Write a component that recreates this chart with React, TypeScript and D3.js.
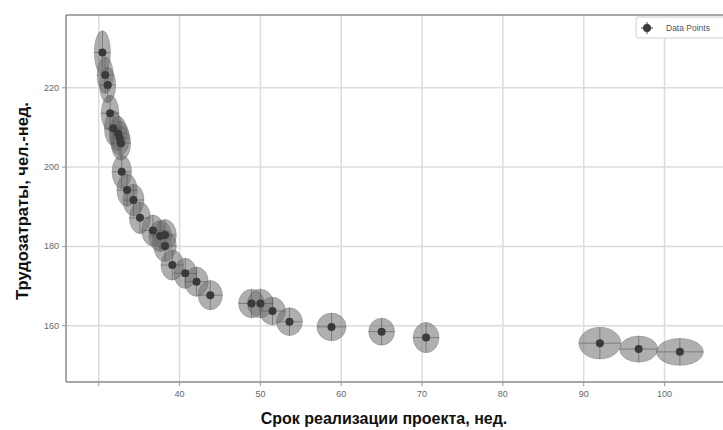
import React from "react";
import * as d3 from "d3";

const xValues = [30.45, 30.8, 31.1, 31.4, 31.8, 32.4, 32.6, 32.75, 32.85, 33.5, 34.3, 35.1, 36.7, 37.6, 38.2, 38.2, 39.1, 40.7, 42.1, 43.8, 48.9, 50.0, 51.5, 53.6, 58.8, 65.0, 70.5, 92.0, 96.8, 101.9];
const yValues = [228.9, 223.2, 220.7, 213.6, 209.8, 208.5, 207.3, 206.0, 198.8, 194.2, 191.7, 187.2, 184.0, 182.6, 182.9, 180.1, 175.3, 173.2, 171.1, 167.7, 165.6, 165.6, 163.7, 161.0, 159.7, 158.5, 157.0, 155.6, 154.1, 153.4];
const xErr = [1.0, 1.0, 1.0, 1.1, 1.1, 1.1, 1.2, 1.2, 1.2, 1.25, 1.3, 1.3, 1.4, 1.4, 1.4, 1.4, 1.4, 1.4, 1.45, 1.5, 1.6, 1.6, 1.6, 1.6, 1.8, 1.6, 1.6, 2.6, 2.35, 2.9];
const yErr = [5.5, 4.6, 4.5, 4.5, 4.4, 4.3, 4.3, 4.3, 4.2, 4.1, 4.0, 4.0, 3.9, 3.9, 3.9, 3.9, 3.8, 3.8, 3.7, 3.7, 3.6, 3.6, 3.5, 3.5, 3.5, 3.4, 3.8, 4.0, 3.3, 3.4];
const xTicks = [30, 40, 50, 60, 70, 80, 90, 100];
const xTickLabels = ["", "40", "50", "60", "70", "80", "90", "100"];
const yTicks = [160, 180, 200, 220];
const yTickLabels = ["160", "180", "200", "220"];
const xLabel = "Срок реализации проекта, нед.";
const yLabel = "Трудозатраты, чел.-нед.";
const legendLabel = "Data Points";

const W = 723;
const H = 430;
const L = 66, T = 15, R = 730, B = 382;

export default function App() {
  const x = d3.scaleLinear().domain([25.95, 108.1]).range([L, R]);
  const y = d3.scaleLinear().domain([145.8, 238.36]).range([B, T]);
  const pts = xValues.map((v, i) => ({ x: v, y: yValues[i], ex: xErr[i], ey: yErr[i] }));
  const font = "'Liberation Sans', Arial, sans-serif";
  return (
    <svg width={W} height={H} style={{ position: "absolute", left: 0, top: 0, background: "#fff" }} fontFamily={font}>
      <defs>
        <clipPath id="plot">
          <rect x={L} y={T} width={R - L} height={B - T} />
        </clipPath>
      </defs>
      <rect x={0} y={0} width={W} height={H} fill="#fff" />
      {xTicks.map((t) => (
        <line key={"gx" + t} x1={x(t)} x2={x(t)} y1={T} y2={B} stroke="#dcdcdc" strokeWidth={1.5} />
      ))}
      {yTicks.map((t) => (
        <line key={"gy" + t} x1={L} x2={R} y1={y(t)} y2={y(t)} stroke="#dcdcdc" strokeWidth={1.5} />
      ))}
      <g clipPath="url(#plot)">
        {pts.map((p, i) => (
          <ellipse key={"e" + i} cx={x(p.x)} cy={y(p.y)} rx={x(p.x + p.ex) - x(p.x)} ry={y(p.y) - y(p.y + p.ey)}
            fill="#6e6e6e" fillOpacity={0.55} stroke="#666" strokeOpacity={0.35} strokeWidth={1} />
        ))}
        {pts.map((p, i) => (
          <g key={"eb" + i} stroke="#5a5a5a" strokeWidth={1} strokeOpacity={0.6}>
            <line x1={x(p.x - p.ex)} x2={x(p.x + p.ex)} y1={y(p.y)} y2={y(p.y)} />
            <line x1={x(p.x)} x2={x(p.x)} y1={y(p.y - p.ey)} y2={y(p.y + p.ey)} />
          </g>
        ))}
        {pts.map((p, i) => (
          <circle key={"c" + i} cx={x(p.x)} cy={y(p.y)} r={4} fill="#3a3a3a" />
        ))}
      </g>
      <line x1={L} x2={L} y1={T} y2={B} stroke="#8a8a8a" strokeWidth={1.5} />
      <line x1={L} x2={R} y1={B} y2={B} stroke="#8a8a8a" strokeWidth={1.5} />
      <line x1={L} x2={R} y1={T} y2={T} stroke="#8a8a8a" strokeWidth={1.5} />
      {xTicks.map((t, i) => (
        <g key={"xt" + t}>
          <line x1={x(t)} x2={x(t)} y1={B} y2={B + 4} stroke="#999" strokeWidth={1} />
          <text x={x(t)} y={B + 15} textAnchor="middle" fontSize={9} fill="#666">{xTickLabels[i]}</text>
        </g>
      ))}
      {yTicks.map((t, i) => (
        <g key={"yt" + t}>
          <line x1={L - 4} x2={L} y1={y(t)} y2={y(t)} stroke="#999" strokeWidth={1} />
          <text x={L - 7} y={y(t) + 3} textAnchor="end" fontSize={9} fill="#666">{yTickLabels[i]}</text>
        </g>
      ))}
      <text x={384} y={424} textAnchor="middle" fontSize={16} fontWeight="bold" fill="#111">{xLabel}</text>
      <text transform="translate(28,201) rotate(-90)" textAnchor="middle" fontSize={16.5} fontWeight="bold" fill="#111">{yLabel}</text>
      <g>
        <rect x={636} y={17} width={100} height={21} fill="#fff" stroke="#d0d0d0" strokeWidth={1} rx={2} />
        <line x1={641} x2={653} y1={28} y2={28} stroke="#444" strokeWidth={1} />
        <line x1={647} x2={647} y1={22} y2={34} stroke="#444" strokeWidth={1} />
        <circle cx={647} cy={28} r={4} fill="#3a3a3a" />
        <text x={666} y={31} fontSize={8.5} fill="#555">{legendLabel}</text>
      </g>
    </svg>
  );
}
